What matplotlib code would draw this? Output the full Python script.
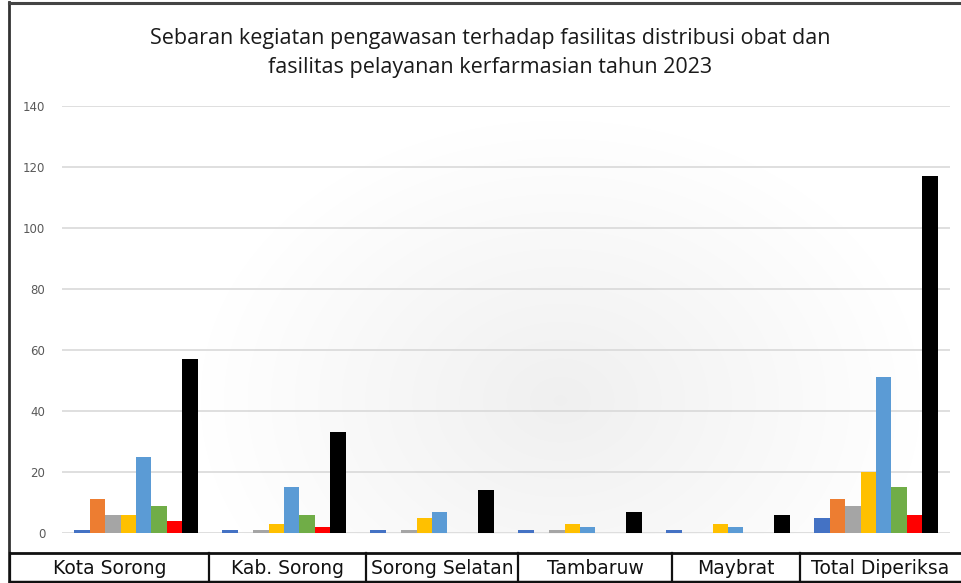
import numpy as np
import matplotlib
matplotlib.use("Agg")
import matplotlib.pyplot as plt
from matplotlib.lines import Line2D

# Data
categories = ["Kota Sorong", "Kab. Sorong", "Sorong Selatan", "Tambaruw", "Maybrat", "Total Diperiksa"]
series_names = ["Seri 1", "Seri 2", "Seri 3", "Seri 4", "Seri 5", "Seri 6", "Seri 7", "Seri 8"]
series_values = [
    [1, 1, 1, 1, 1, 5],
    [11, 0, 0, 0, 0, 11],
    [6, 1, 1, 1, 0, 9],
    [6, 3, 5, 3, 3, 20],
    [25, 15, 7, 2, 2, 51],
    [9, 6, 0, 0, 0, 15],
    [4, 2, 0, 0, 0, 6],
    [57, 33, 14, 7, 6, 117],
]
colors = ["#4472C4", "#ED7D31", "#A5A5A5", "#FFC000", "#5B9BD5", "#70AD47", "#FF0000", "#000000"]
yticks = [0, 20, 40, 60, 80, 100, 120, 140]
title = "Sebaran kegiatan pengawasan terhadap fasilitas distribusi obat dan\nfasilitas pelayanan kerfarmasian tahun 2023"

W, H = 961, 583
fig = plt.figure(figsize=(W / 100, H / 100), dpi=100)

# soft radial shading behind the plot area only
bg = fig.add_axes([0, 0, 1, 1], zorder=0)
yy, xx = np.mgrid[0:H, 0:W]
r = np.sqrt(((xx - 560) / 360.0) ** 2 + ((yy - 400) / 280.0) ** 2)
shade = 1.0 - 0.06 * np.clip(1 - r, 0, 1)
shade[yy > 533] = 1.0
bg.imshow(np.dstack([shade] * 3), extent=[0, W, H, 0], aspect="auto")
bg.set_xlim(0, W)
bg.set_ylim(H, 0)
bg.axis("off")

# outer frame lines
bg.add_line(Line2D([9, 9], [2, H], color="#333333", lw=2))
bg.add_line(Line2D([9, W], [3, 3], color="#444444", lw=2.2))

ax = fig.add_axes([62 / W, 1 - 533 / H, (950 - 62) / W, (533 - 106) / H], zorder=1)
ax.patch.set_alpha(0)
x = np.arange(len(categories))
w = 0.104
for j, vals in enumerate(series_values):
    ax.bar(x + (j - 3.5) * w, vals, width=w, color=colors[j], label=series_names[j], zorder=3)

ax.set_xlim(-0.5, len(categories) - 0.5)
ax.set_ylim(0, 140)
ax.set_yticks(yticks)
ax.set_xticks([])
ax.yaxis.grid(True, color="#d9d9d9", lw=1.2, zorder=0)
ax.tick_params(axis="y", length=0, labelsize=8.5, labelcolor="#595959", pad=12)
for s in ax.spines.values():
    s.set_visible(False)

fig.text(490 / W, 1 - 53 / H, title, ha="center", va="center", fontsize=15.5,
         family="Open Sans", color="#1a1a1a", linespacing=1.45)

# category label strip at the bottom
tab = fig.add_axes([0, 0, 1, 1], zorder=2)
tab.set_xlim(0, W)
tab.set_ylim(H, 0)
tab.axis("off")
edges = [10, 209, 366, 518, 672, 800, W]
tab.add_line(Line2D([10, W], [553, 553], color="#111111", lw=2))
tab.add_line(Line2D([10, W], [581.5, 581.5], color="#111111", lw=2.5))
for e in edges[:-1]:
    tab.add_line(Line2D([e, e], [553, H], color="#111111", lw=1.6))
for i, c in enumerate(categories):
    tab.text((edges[i] + edges[i + 1]) / 2, 568, c, ha="center", va="center",
             fontsize=13.5, color="#111111")

fig.savefig("out.png", dpi=100)
